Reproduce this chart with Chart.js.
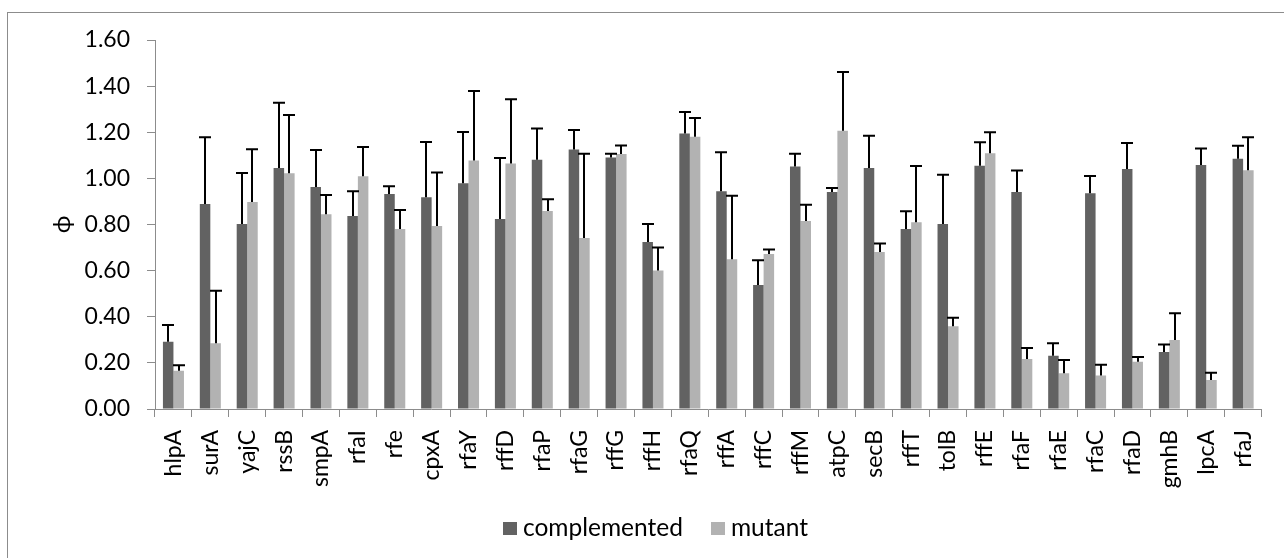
<!DOCTYPE html>
<html><head><meta charset="utf-8">
<script src="https://cdn.jsdelivr.net/npm/chart.js@4.4.0/dist/chart.umd.min.js"></script>
<style>
html,body{margin:0;padding:0;background:#fff;overflow:hidden;width:1284px;height:558px;}
#frame{position:absolute;left:7px;top:12px;width:1400px;height:700px;border:1px solid #8c8c8c;box-sizing:border-box;}
#wrap{position:absolute;left:0;top:0;width:1284px;height:558px;}
#legend{position:absolute;left:503px;top:512px;font-family:Lato,"Open Sans",sans-serif;font-size:24.5px;color:#000;white-space:nowrap;line-height:30px;}
#legend span.sw{display:inline-block;width:14px;height:13px;vertical-align:middle;margin-right:6px;position:relative;top:-1px;}
#legend span.item{margin-right:28px;}
</style>
</head><body>
<div id="frame"></div>
<div id="wrap"><canvas id="c" width="1284" height="558"></canvas></div>
<div id="legend"><span class="item"><span class="sw" style="background:#626262"></span>complemented</span><span class="item"><span class="sw" style="background:#b2b2b2"></span>mutant</span></div>
<script>
const categories = ["hlpA","surA","yajC","rssB","smpA","rfaI","rfe","cpxA","rfaY","rffD","rfaP","rfaG","rffG","rffH","rfaQ","rffA","rffC","rffM","atpC","secB","rffT","tolB","rffE","rfaF","rfaE","rfaC","rfaD","gmhB","lpcA","rfaJ"];
const complemented = [0.292,0.889,0.802,1.045,0.963,0.837,0.932,0.918,0.979,0.824,1.081,1.125,1.090,0.724,1.195,0.944,0.538,1.052,0.941,1.045,0.781,0.802,1.055,0.941,0.231,0.935,1.041,0.247,1.058,1.085];
const complementedErr = [0.072,0.289,0.221,0.283,0.160,0.107,0.034,0.240,0.222,0.264,0.135,0.085,0.017,0.078,0.093,0.169,0.107,0.055,0.017,0.140,0.076,0.214,0.102,0.093,0.054,0.075,0.112,0.033,0.072,0.057];
const mutant = [0.166,0.285,0.898,1.022,0.844,1.009,0.781,0.794,1.078,1.065,0.859,0.742,1.106,0.601,1.180,0.649,0.672,0.815,1.206,0.681,0.810,0.359,1.109,0.217,0.155,0.145,0.205,0.299,0.126,1.035];
const mutantErr = [0.024,0.228,0.228,0.253,0.084,0.127,0.082,0.231,0.301,0.278,0.050,0.365,0.037,0.099,0.082,0.276,0.020,0.071,0.255,0.037,0.244,0.037,0.091,0.048,0.057,0.047,0.020,0.116,0.031,0.143];
const yTicks = [0,0.2,0.4,0.6,0.8,1.0,1.2,1.4,1.6];

const FONT = "Lato, 'Open Sans', sans-serif";

const errorBars = {
  id: 'errorBars',
  afterDatasetsDraw(chart) {
    const ctx = chart.ctx;
    const ys = chart.scales.y;
    chart.data.datasets.forEach((ds, i) => {
      const meta = chart.getDatasetMeta(i);
      meta.data.forEach((bar, j) => {
        const top = ys.getPixelForValue(ds.data[j] + ds.errors[j]);
        const x = Math.round(bar.x);
        ctx.save();
        ctx.strokeStyle = '#000';
        ctx.lineWidth = 2;
        ctx.beginPath();
        ctx.moveTo(x, bar.y);
        ctx.lineTo(x, top);
        ctx.moveTo(x - 6, top);
        ctx.lineTo(x + 6, top);
        ctx.stroke();
        ctx.restore();
      });
    });
  }
};

new Chart(document.getElementById('c'), {
  type: 'bar',
  data: {
    labels: categories,
    datasets: [
      {label: 'complemented', data: complemented, errors: complementedErr, backgroundColor: '#626262', borderWidth: 0},
      {label: 'mutant', data: mutant, errors: mutantErr, backgroundColor: '#b2b2b2', borderWidth: 0}
    ]
  },
  options: {
    responsive: false,
    animation: false,
    devicePixelRatio: 1,
    categoryPercentage: 0.57,
    barPercentage: 1.0,
    layout: {padding: {left: 0, top: 40, right: 17, bottom: 49}},
    plugins: {legend: {display: false}, tooltip: {enabled: false}},
    scales: {
      x: {
        offset: true,
        grid: {display: true, offset: true, drawOnChartArea: false, color: '#8c8c8c', tickLength: 8},
        border: {display: true, color: '#8c8c8c', width: 1},
        ticks: {color: '#000', font: {family: FONT, size: 23}, minRotation: 90, maxRotation: 90, autoSkip: false, padding: 13},
        afterFit(s) { s.height = 100; }
      },
      y: {
        min: 0, max: 1.6,
        afterBuildTicks(s) { s.ticks = yTicks.map(v => ({value: v})); },
        grid: {display: true, drawOnChartArea: false, color: '#8c8c8c', tickLength: 8},
        border: {display: true, color: '#8c8c8c', width: 1},
        ticks: {color: '#000', font: {family: FONT, size: 23}, padding: 17, callback: v => Number(v).toFixed(2)},
        title: {display: true, text: 'ϕ', color: '#000', font: {family: FONT, size: 24}, padding: {top: 48, bottom: 0}},
        afterFit(s) { s.width = 155; }
      }
    }
  },
  plugins: [errorBars]
});
</script>
</body></html>
